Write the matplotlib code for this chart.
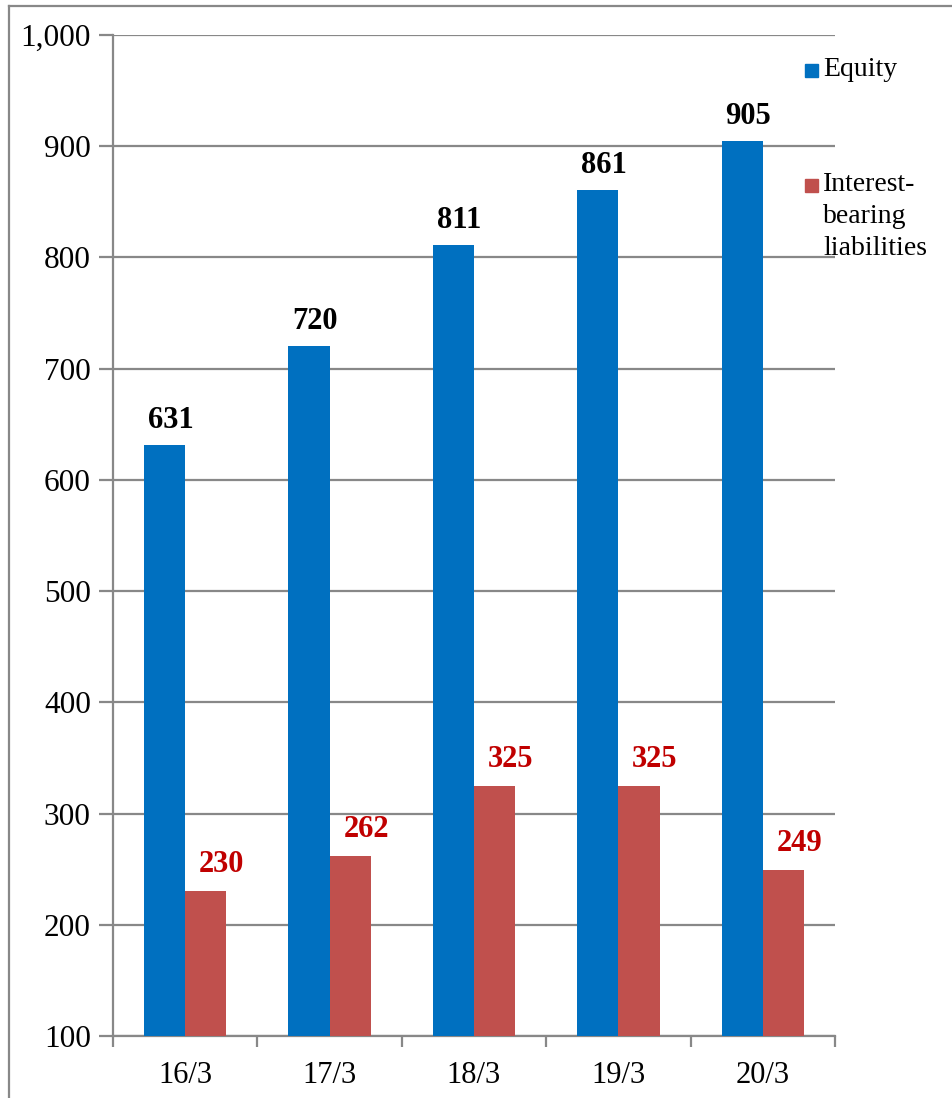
import matplotlib
matplotlib.use("Agg")
import matplotlib.pyplot as plt
import numpy as np
from matplotlib.patches import Rectangle
from matplotlib.lines import Line2D

categories = ["16/3", "17/3", "18/3", "19/3", "20/3"]
equity = [631, 720, 811, 861, 905]
liabilities = [230, 262, 325, 325, 249]
yticks = [100, 200, 300, 400, 500, 600, 700, 800, 900, 1000]
ytick_labels = ["100", "200", "300", "400", "500", "600", "700", "800", "900", "1,000"]

blue = "#0070C0"
red = "#C0504D"
label_red = "#C00000"
gray = "#888888"

plt.rcParams['font.family'] = ['Liberation Serif', 'DejaVu Serif']

W, H = 953, 1098
fig = plt.figure(figsize=(W / 100, H / 100), dpi=100)
ax = fig.add_axes([113 / W, (H - 1036) / H, (835 - 113) / W, (1036 - 35) / H])

x = np.arange(len(categories))
w = 0.285
ax.bar(x - w / 2, equity, width=w, color=blue, zorder=3)
ax.bar(x + w / 2, liabilities, width=w, color=red, zorder=3)

ax.set_xlim(-0.5, len(categories) - 0.5)
ax.set_ylim(100, 1000)
ax.set_yticks(yticks)
ax.set_yticklabels(ytick_labels, fontsize=22.5)
ax.yaxis.grid(True, color=gray, linewidth=1.6, zorder=0)
ax.set_axisbelow(True)

ax.set_xticks(x)
ax.set_xticklabels(categories, fontsize=22)
ax.set_xticks(np.arange(-0.5, len(categories), 1.0), minor=True)
ax.tick_params(axis='x', which='major', length=0, pad=18)
ax.tick_params(axis='x', which='minor', length=8, width=1.6, color=gray, direction='out')
ax.tick_params(axis='y', length=10, width=1.6, color=gray, direction='out', pad=6)

for s in ['top', 'right']:
    ax.spines[s].set_visible(False)
for s in ['left', 'bottom']:
    ax.spines[s].set_color(gray)
    ax.spines[s].set_linewidth(1.6)

for xi, v in zip(x, equity):
    ax.annotate(f"{v}", (xi - w / 2, v), xytext=(6, 10), textcoords="offset pixels",
                ha='center', va='bottom', fontsize=22, fontweight='bold', color='black')
for xi, v in zip(x, liabilities):
    ax.annotate(f"{v}", (xi + w / 2, v), xytext=(16, 12), textcoords="offset pixels",
                ha='center', va='bottom', fontsize=22, fontweight='bold', color=label_red)

# legend (drawn manually to match layout)
fig.add_artist(Rectangle((805 / W, (H - 77) / H), 13 / W, 13 / H, transform=fig.transFigure,
                         color=blue))
fig.text(823 / W, (H - 70) / H, "Equity", fontsize=20, va='center', ha='left')
fig.add_artist(Rectangle((805 / W, (H - 192) / H), 13 / W, 13 / H, transform=fig.transFigure,
                         color=red))
fig.text(823 / W, (H - 172) / H, "Interest-\nbearing\nliabilities", fontsize=20,
         va='top', ha='left', linespacing=1.38,
         transform=fig.transFigure)

# outer chart border (top and left visible)
fig.add_artist(Line2D([9 / W, 9 / W], [0, (H - 6) / H], transform=fig.transFigure,
                      color=gray, linewidth=1.6))
fig.add_artist(Line2D([9 / W, 1], [(H - 6) / H, (H - 6) / H], transform=fig.transFigure,
                      color=gray, linewidth=1.6))

fig.savefig("out.png", dpi=100)
